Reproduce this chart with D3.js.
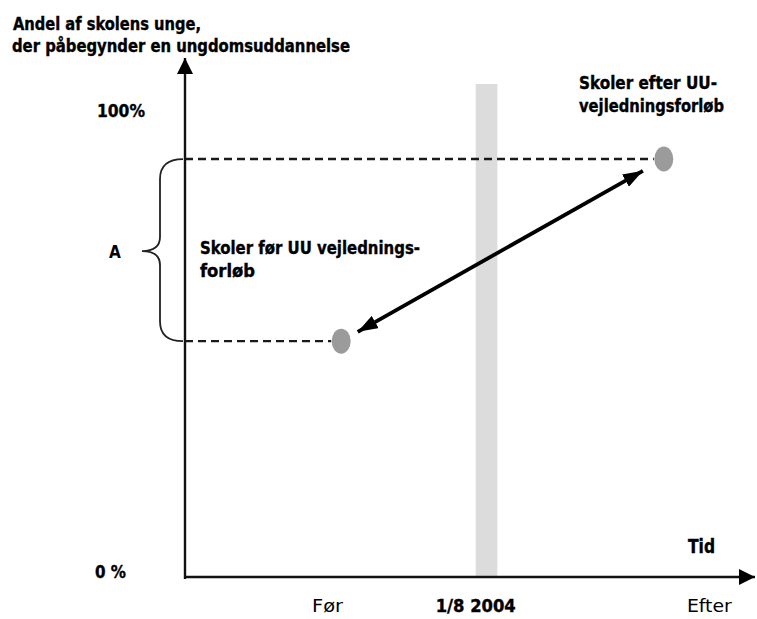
<!DOCTYPE html>
<html><head><meta charset="utf-8">
<script src="https://cdn.jsdelivr.net/npm/d3@7"></script>
<style>body{margin:0;background:#fff}svg{display:block}</style>
</head><body>
<svg id="c" width="757" height="619"></svg>
<script>
// ---- data (conceptual diagram) ----
const yTickLabels = ["0 %", "100%"];
const yTickValues = [0, 100];
const xCategories = ["Før", "1/8 2004", "Efter"];
const xCategoryPos = [25, 51, 92];           // time units 0..100
const pointNames = ["Skoler før UU vejlednings-|forløb", "Skoler efter UU-|vejledningsforløb"];
const pointTime = [27.4, 84];
const pointShare = [50.5, 89.5];             // percent
const reformBand = [51, 54.8];               // time units of grey band
const yTitle = ["Andel af skolens unge,", "der påbegynder en ungdomsuddannelse"];
const xTitle = "Tid";
const braceLabel = "A";

const svg = d3.select("#c");
const x = d3.scaleLinear().domain([0, 100]).range([185, 755]);
const y = d3.scaleLinear().domain([0, 100]).range([577, 110]);
const font = "'DejaVu Sans Condensed','Liberation Sans Narrow','DejaVu Sans',sans-serif";
const thinFont = "'Liberation Sans Narrow','DejaVu Sans Condensed',sans-serif";

const defs = svg.append("defs");
function marker(id, w, h) {
  defs.append("marker").attr("id", id).attr("viewBox", `0 0 ${w} ${h}`)
    .attr("refX", w).attr("refY", h / 2).attr("markerWidth", w).attr("markerHeight", h)
    .attr("markerUnits", "userSpaceOnUse").attr("orient", "auto-start-reverse")
    .append("path").attr("d", `M0,0L${w},${h / 2}L0,${h}Z`).attr("fill", "#000");
}
marker("ax", 16, 16);
marker("ar", 20, 14);

// grey band (1/8 2004)
svg.append("rect").attr("x", x(reformBand[0])).attr("width", x(reformBand[1]) - x(reformBand[0]))
  .attr("y", 84).attr("height", y(0) - 84).attr("fill", "#dcdcdc");

// axes
svg.append("line").attr("x1", x(0)).attr("x2", x(0)).attr("y1", y(0) + 2).attr("y2", 58)
  .attr("stroke", "#111").attr("stroke-width", 2.4).attr("marker-end", "url(#ax)");
svg.append("line").attr("x1", x(0)).attr("x2", x(100)).attr("y1", y(0)).attr("y2", y(0))
  .attr("stroke", "#111").attr("stroke-width", 2.4).attr("marker-end", "url(#ax)");

// dashed reference lines
pointShare.forEach((v, i) => {
  svg.append("line").attr("x1", x(0)).attr("x2", x(pointTime[i]) - 10)
    .attr("y1", y(v)).attr("y2", y(v))
    .attr("stroke", "#1a1a1a").attr("stroke-width", 2.4).attr("stroke-dasharray", "8,5");
});

// brace
const yt = y(pointShare[1]), yb = y(pointShare[0]), ym = (yt + yb) / 2 + 1;
const bx = x(0) - 25;
svg.append("path").attr("fill", "none").attr("stroke", "#222").attr("stroke-width", 1.8)
  .attr("d", `M${x(0) - 2},${yt} Q${bx},${yt} ${bx},${yt + 20} L${bx},${ym - 14} Q${bx},${ym} ${bx - 18},${ym} Q${bx},${ym} ${bx},${ym + 14} L${bx},${yb - 20} Q${bx},${yb} ${x(0) - 2},${yb}`);
svg.append("text").attr("x", 115).attr("y", ym + 7).attr("text-anchor", "middle")
  .attr("font-family", font).attr("font-weight", "bold").attr("font-size", 17).text(braceLabel);

// points
svg.selectAll("ellipse.pt").data(pointTime).join("ellipse").attr("class", "pt")
  .attr("cx", d => x(d)).attr("cy", (d, i) => y(pointShare[i]))
  .attr("rx", 9.5).attr("ry", 12.5).attr("fill", "#9b9b9b");

// double-headed arrow between points
const p0 = [x(pointTime[0]), y(pointShare[0])], p1 = [x(pointTime[1]), y(pointShare[1])];
const dx = p1[0] - p0[0], dy = p1[1] - p0[1], L = Math.hypot(dx, dy);
const s0 = 19, s1 = 24;
svg.append("line")
  .attr("x1", p0[0] + dx / L * s0).attr("y1", p0[1] + dy / L * s0)
  .attr("x2", p1[0] - dx / L * s1).attr("y2", p1[1] - dy / L * s1)
  .attr("stroke", "#000").attr("stroke-width", 3.8)
  .attr("marker-start", "url(#ar)").attr("marker-end", "url(#ar)");

// texts
function txt(t, px, py, size, bold, len, anchor, fam) {
  const e = svg.append("text").attr("x", px).attr("y", py).attr("font-family", fam || font)
    .attr("font-size", size).attr("font-weight", bold ? "bold" : "normal").attr("fill", "#000")
    .attr("text-anchor", anchor || "start").text(t);
  if (bold) e.attr("stroke", "#000").attr("stroke-width", 0.35);
  if (len) e.attr("textLength", len).attr("lengthAdjust", "spacingAndGlyphs");
  return e;
}
txt(yTitle[0], 13, 30, 17, true, 188);
txt(yTitle[1], 12, 52, 17, true, 338);

txt(yTickLabels[1], 97, y(yTickValues[1]) + 7, 18, true, 48);
txt(yTickLabels[0], 95, y(yTickValues[0]) + 1, 18, true, 31);

const lens = [[220, 55], [138, 145]];
const pos = [[200, 254], [579, 89]];
pointNames.forEach((n, i) => {
  n.split("|").forEach((l, j) => txt(l, pos[i][0], pos[i][1] + j * 23, 17, true, lens[i][j]));
});

txt(xTitle, 688, 553, 19, true, 27);
const catLens = [31, 80, 45];
xCategories.forEach((c, i) => {
  txt(c, x(xCategoryPos[i]), 612, i === 1 ? 17 : 18, i === 1, catLens[i], "middle", i === 1 ? font : thinFont);
});
</script>
</body></html>
